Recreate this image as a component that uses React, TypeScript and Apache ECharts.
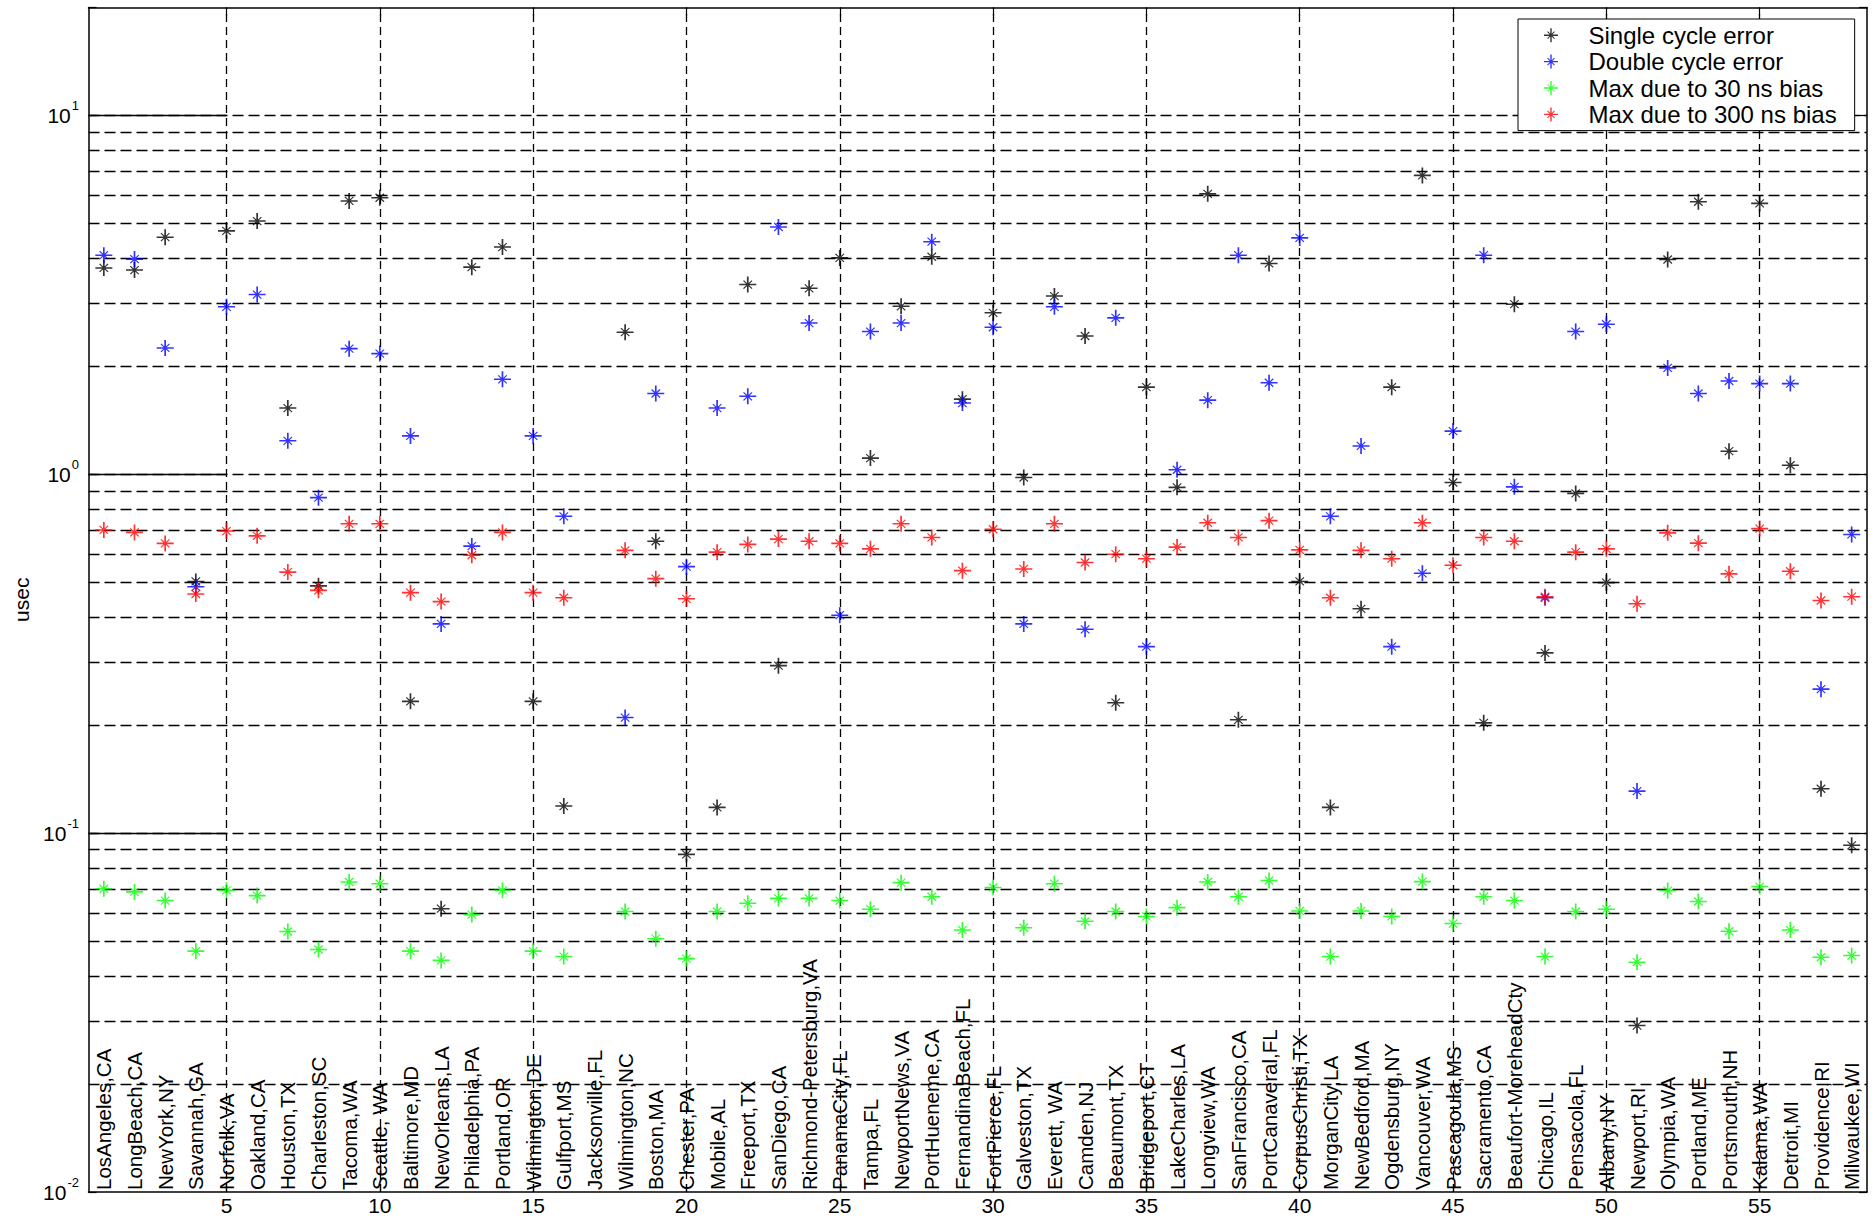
import React, { useEffect, useRef } from "react";
import * as echarts from "echarts";

const cities = [
  "LosAngeles,CA", "LongBeach,CA", "NewYork,NY", "Savannah,GA", "Norfolk,VA",
  "Oakland,CA", "Houston,TX", "Charleston,SC", "Tacoma,WA", "Seattle, WA",
  "Baltimore,MD", "NewOrleans,LA", "Philadelphia,PA", "Portland,OR", "Wilmington,DE",
  "Gulfport,MS", "Jacksonville,FL", "Wilmington,NC", "Boston,MA", "Chester,PA",
  "Mobile,AL", "Freeport,TX", "SanDiego,CA", "Richmond-Petersburg,VA", "PanamaCity,FL",
  "Tampa,FL", "NewportNews,VA", "PortHueneme,CA", "FernandinaBeach,FL", "FortPierce,FL",
  "Galveston,TX", "Everett, WA", "Camden,NJ", "Beaumont,TX", "Bridgeport,CT",
  "LakeCharles,LA", "Longview,WA", "SanFrancisco,CA", "PortCanaveral,FL", "CorpusChristi,TX",
  "MorganCity,LA", "NewBedford,MA", "Ogdensburg,NY", "Vancouver,WA", "Pascagoula,MS",
  "Sacramento,CA", "Beaufort-MoreheadCty", "Chicago,IL", "Pensacola,FL", "Albany,NY",
  "Newport,RI", "Olympia,WA", "Portland,ME", "Portsmouth,NH", "Kalama,WA",
  "Detroit,MI", "Providence,RI", "Milwaukee,WI",
];

const singleCycleError = [
  3.76, 3.71, 4.58, 0.503, 4.77, 5.08, 1.53, 0.489, 5.78, 5.9,
  0.233, 0.0616, 3.78, 4.3, 0.233, 0.119, null, 2.49, 0.651, 0.0873,
  0.118, 3.38, 0.293, 3.3, 4.01, 1.11, 2.94, 4.04, 1.62, 2.82,
  0.98, 3.14, 2.43, 0.231, 1.75, 0.92, 6.05, 0.207, 3.87, 0.503,
  0.118, 0.422, 1.75, 6.81, 0.949, 0.203, 2.98, 0.318, 0.885, 0.499,
  0.0291, 3.97, 5.75, 1.16, 5.69, 1.06, 0.133, 0.0925,
];

const doubleCycleError = [
  4.08, 3.98, 2.25, 0.486, 2.93, 3.17, 1.24, 0.861, 2.24, 2.17,
  1.28, 0.383, 0.631, 1.84, 1.28, 0.764, null, 0.21, 1.68, 0.553,
  1.53, 1.65, 4.89, 2.64, 0.405, 2.5, 2.64, 4.45, 1.58, 2.57,
  0.383, 2.93, 0.37, 2.73, 0.331, 1.03, 1.61, 4.08, 1.8, 4.56,
  0.764, 1.2, 0.331, 0.53, 1.32, 4.08, 0.923, 0.453, 2.5, 2.62,
  0.131, 1.98, 1.68, 1.82, 1.79, 1.79, 0.252, 0.68,
];

const maxDue30nsBias = [
  0.07, 0.0686, 0.0649, 0.0469, 0.0693, 0.067, 0.0532, 0.0474, 0.0731, 0.0723,
  0.0469, 0.0442, 0.0593, 0.0693, 0.0469, 0.0453, null, 0.0605, 0.0508, 0.0447,
  0.0605, 0.0638, 0.0658, 0.0658, 0.0649, 0.0614, 0.0728, 0.0665, 0.0537, 0.0706,
  0.0545, 0.0723, 0.0568, 0.0605, 0.0586, 0.062, 0.0731, 0.0665, 0.0738, 0.0607,
  0.0453, 0.0607, 0.0586, 0.0733, 0.056, 0.0665, 0.0649, 0.0453, 0.0605, 0.0614,
  0.0437, 0.0692, 0.0645, 0.0533, 0.071, 0.0537, 0.0451, 0.0456,
];

const maxDue300nsBias = [
  0.7, 0.689, 0.642, 0.464, 0.695, 0.674, 0.534, 0.475, 0.728, 0.728,
  0.468, 0.442, 0.595, 0.689, 0.468, 0.453, null, 0.614, 0.512, 0.45,
  0.607, 0.638, 0.66, 0.651, 0.642, 0.62, 0.728, 0.667, 0.539, 0.703,
  0.545, 0.728, 0.568, 0.599, 0.582, 0.627, 0.733, 0.667, 0.743, 0.616,
  0.453, 0.614, 0.582, 0.733, 0.558, 0.667, 0.651, 0.456, 0.607, 0.62,
  0.436, 0.687, 0.643, 0.528, 0.706, 0.537, 0.445, 0.456,
];

const seriesNames = [
  "Single cycle error",
  "Double cycle error",
  "Max due to 30 ns bias",
  "Max due to 300 ns bias",
];
const seriesColors = ["#000000", "#0000ff", "#00ff00", "#ff0000"];

const xTickValues = [5, 10, 15, 20, 25, 30, 35, 40, 45, 50, 55];
const decadeValues = [0.1, 1, 10];
const gridMantissas = [1, 2, 3, 4, 5, 6, 7, 8, 9];
const decadeStarts = [0.01, 0.1, 1, 10];

const STAR =
  "path://M7.2,0L8.8,0L8.8,16L7.2,16Z M0,7.2L16,7.2L16,8.8L0,8.8Z M4.4,3.6L12.4,11.6L11.6,12.4L3.6,4.4Z M12.4,4.4L4.4,12.4L3.6,11.6L11.6,3.6Z";

const FONT = "'Liberation Sans', Arial, Helvetica, sans-serif";

export default function App() {
  const ref = useRef<HTMLDivElement>(null);

  useEffect(() => {
    if (!ref.current) return;
    const chart = echarts.init(ref.current, undefined, { renderer: "svg" });

    const toPoints = (arr: (number | null)[]) =>
      arr
        .map((v, i) => (v == null ? null : [i + 1, v]))
        .filter((p) => p !== null);

    const hGrid: number[] = [];
    for (const d of decadeStarts) {
      for (const m of gridMantissas) {
        const v = Number((m * d).toPrecision(6));
        if (v > 0.01 && v < 20) hGrid.push(v);
      }
    }

    const hDashed = { color: "#000", width: 1.3, type: [11, 5] as any, opacity: 1 };
    const vDashed = { color: "#000", width: 1.3, type: [8, 5] as any, opacity: 1 };

    const markData: any[] = [
      ...hGrid.map((v) => ({ yAxis: v, lineStyle: hDashed })),
      ...xTickValues.map((v) => ({ xAxis: v, lineStyle: vDashed })),
      ...decadeValues.map((v) => [
        { coord: [0.5, v], lineStyle: { type: "solid", width: 1.3, color: "#000" } },
        { coord: [5, v] },
      ]),
    ];

    const dataSets = [singleCycleError, doubleCycleError, maxDue30nsBias, maxDue300nsBias];

    const axisLine = { show: true, onZero: false, lineStyle: { color: "#000", width: 1.5 } };

    const option: any = {
      animation: false,
      backgroundColor: "#fff",
      grid: { left: 88.5, right: 8, top: 7.5, bottom: 27, containLabel: false },
      legend: {
        show: true,
        z: 20,
        data: seriesNames.map((n) => ({ name: n, icon: STAR })),
        orient: "vertical",
        left: 1518,
        top: 19,
        itemWidth: 15,
        itemHeight: 14,
        itemGap: 0,
        padding: [3, 18, 3, 26],
        borderColor: "#000",
        borderWidth: 1,
        backgroundColor: "#fff",
        selectedMode: false,
        textStyle: {
          fontFamily: FONT,
          fontSize: 24,
          color: "#000",
          lineHeight: 26.4,
          padding: [0, 0, 0, 25],
        },
      },
      xAxis: [
        {
          type: "value",
          min: 0.5,
          max: 58.5,
          position: "bottom",
          axisLine,
          axisTick: {
            show: true,
            inside: true,
            length: 8,
            customValues: xTickValues,
            lineStyle: { color: "#000", width: 1.2 },
          },
          axisLabel: {
            customValues: xTickValues,
            fontSize: 21,
            margin: 3,
            color: "#000",
            fontFamily: FONT,
          },
          splitLine: { show: false },
        },
        {
          type: "value",
          min: 0.5,
          max: 58.5,
          position: "top",
          axisLine,
          axisTick: {
            show: true,
            inside: true,
            length: 8,
            customValues: xTickValues,
            lineStyle: { color: "#000", width: 1.2 },
          },
          axisLabel: { show: false },
          splitLine: { show: false },
        },
        {
          type: "category",
          data: cities,
          position: "bottom",
          boundaryGap: true,
          axisLine: { show: false, onZero: false },
          axisTick: { show: false },
          axisLabel: {
            inside: true,
            rotate: 90,
            interval: 0,
            fontSize: 20.5,
            margin: 2,
            color: "#000",
            fontFamily: FONT,
          },
          splitLine: { show: false },
        },
      ],
      yAxis: [
        {
          type: "log",
          logBase: 10,
          min: 0.01,
          max: 20,
          position: "left",
          axisLine,
          axisTick: { show: true, inside: true, length: 8, lineStyle: { color: "#000", width: 1.2 } },
          axisLabel: {
            margin: 9.5,
            formatter: (v: number) => {
              const e = Math.log10(v);
              const r = Math.round(e);
              if (Math.abs(e - r) > 1e-6) return "";
              return `{b|10}{s|${r}}`;
            },
            rich: {
              b: { fontSize: 21, fontFamily: FONT, color: "#000", padding: [6, 0, 6, 0], verticalAlign: "middle" },
              s: { fontSize: 13, fontFamily: FONT, color: "#000", verticalAlign: "top", padding: [0, 0, 0, 1] },
            },
          },
          splitLine: { show: false },
          name: "usec",
          nameLocation: "middle",
          nameGap: 56,
          nameTextStyle: { fontFamily: FONT, fontSize: 21, color: "#000" },
        },
        {
          type: "log",
          logBase: 10,
          min: 0.01,
          max: 20,
          position: "right",
          axisLine,
          axisTick: { show: true, inside: true, length: 8, lineStyle: { color: "#000", width: 1.2 } },
          axisLabel: { show: false },
          splitLine: { show: false },
        },
      ],
      series: [
        {
          name: "grid",
          type: "line",
          xAxisIndex: 0,
          yAxisIndex: 0,
          data: [],
          z: 1,
          silent: true,
          markLine: {
            z: 1,
            silent: true,
            symbol: "none",
            animation: false,
            label: { show: false },
            lineStyle: hDashed,
            emphasis: { disabled: true },
            data: markData,
          },
        },
        ...dataSets.map((arr, i) => ({
          name: seriesNames[i],
          type: "scatter",
          xAxisIndex: 0,
          yAxisIndex: 0,
          data: toPoints(arr),
          symbol: STAR,
          symbolSize: [17, 16],
          itemStyle: { color: seriesColors[i] },
          z: 3 + i,
          silent: true,
          emphasis: { disabled: true },
        })),
      ],
    };

    chart.setOption(option);
    return () => chart.dispose();
  }, []);

  return (
    <div
      ref={ref}
      style={{ position: "fixed", left: 0, top: 0, width: 1875, height: 1219, background: "#fff" }}
    />
  );
}
